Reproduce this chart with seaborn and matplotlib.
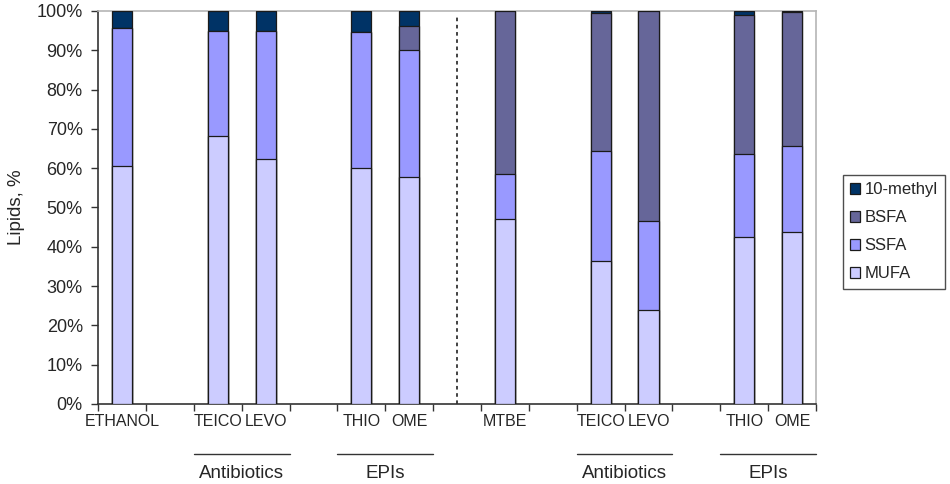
import numpy as np
import pandas as pd
import seaborn as sns
import matplotlib.pyplot as plt
from matplotlib.patches import Patch

nan = np.nan

# tick labels per slot, blanks are gaps between groups
x_labels = ["ETHANOL", "", "TEICO", "LEVO", "", "THIO", "OME", "",
            "MTBE", "", "TEICO", "LEVO", "", "THIO", "OME"]

mufa   = [60.5, nan, 68.1, 62.3, nan, 60.0, 57.8, nan, 47.0, nan, 36.3, 24.0, nan, 42.6, 43.7]
ssfa   = [35.1, nan, 26.7, 32.5, nan, 34.6, 32.4, nan, 11.4, nan, 28.2, 22.5, nan, 21.0, 22.0]
bsfa   = [0.0,  nan, 0.0,  0.0,  nan, 0.0,  6.0,  nan, 41.6, nan, 34.9, 53.5, nan, 35.4, 34.0]
methyl = [4.4,  nan, 5.2,  5.2,  nan, 5.4,  3.8,  nan, 0.0,  nan, 0.6,  0.0,  nan, 1.0,  0.3]

layers = ["MUFA", "SSFA", "BSFA", "10-methyl"]
colors = {"MUFA": "#CCCCFF", "SSFA": "#9999FF", "BSFA": "#666699", "10-methyl": "#003366"}

# group brackets under the axis: (label, first slot, last slot)
groups = [("Antibiotics", 2, 3), ("EPIs", 5, 6), ("Antibiotics", 10, 11), ("EPIs", 13, 14)]
separator_slot = 7

df = pd.DataFrame({"slot": range(len(x_labels)), "MUFA": mufa, "SSFA": ssfa,
                   "BSFA": bsfa, "10-methyl": methyl}).dropna()
cum = df[layers].cumsum(axis=1)
cum["slot"] = df["slot"]

sns.set_style("ticks")
plt.rcParams['font.family'] = ['Liberation Sans', 'DejaVu Sans']

fig = plt.figure(figsize=(9.5, 4.84), dpi=100)
ax = fig.add_axes([0.1032, 0.1653, 0.7558, 0.812])

# draw cumulative totals from the top layer down so each segment shows
for layer in reversed(layers):
    sns.barplot(data=cum, x="slot", y=layer, native_scale=True, width=0.42,
                color=colors[layer], saturation=1, edgecolor="#1a1a1a",
                linewidth=0.9, ax=ax, zorder=3)

ax.set_xlim(-0.5, len(x_labels) - 0.5)
ax.set_ylim(0, 100)
ax.set_yticks(np.arange(0, 101, 10))
ax.set_yticklabels([f"{v}%" for v in range(0, 101, 10)], fontsize=13)
ax.set_ylabel("Lipids, %", fontsize=13.5, labelpad=8)
ax.set_xlabel("")

ax.set_xticks(np.arange(-0.5, len(x_labels), 1.0))
ax.set_xticklabels([])
ax.set_xticks(np.arange(len(x_labels)), minor=True)
ax.set_xticklabels(x_labels, minor=True, fontsize=11.5)
ax.tick_params(axis="x", which="minor", length=0, pad=7)
ax.tick_params(axis="both", which="major", length=5, width=1, color="#333333",
               direction="out")
ax.tick_params(axis="y", which="major", pad=6)

for side in ["left", "bottom"]:
    ax.spines[side].set_color("#333333")
    ax.spines[side].set_linewidth(1.2)
for side in ["top", "right"]:
    ax.spines[side].set_visible(True)
    ax.spines[side].set_color("#b5b5b5")
    ax.spines[side].set_linewidth(1.2)

ax.axvline(separator_slot, ymin=0, ymax=0.987, color="#333333", lw=1.3,
           linestyle=(0, (2, 2)), zorder=2)

for name, a, b in groups:
    ax.plot([a - 0.5, b + 0.5], [-0.127, -0.127], color="#333333", lw=1,
            transform=ax.get_xaxis_transform(), clip_on=False)
    ax.text((a + b) / 2, -0.178, name, transform=ax.get_xaxis_transform(),
            ha="center", va="center", fontsize=13.5)

handles = [Patch(facecolor=colors[l], edgecolor="#1a1a1a", linewidth=0.9, label=l)
           for l in reversed(layers)]
leg = fig.legend(handles=handles, loc="upper left", bbox_to_anchor=(0.887, 0.639),
                 frameon=True, fancybox=False, edgecolor="#222222", fontsize=12,
                 handlelength=0.6, handleheight=0.6, handletextpad=0.25,
                 labelspacing=0.78, borderpad=0.45, borderaxespad=0)
leg.get_frame().set_linewidth(1)

fig.savefig("out.png", dpi=100)
